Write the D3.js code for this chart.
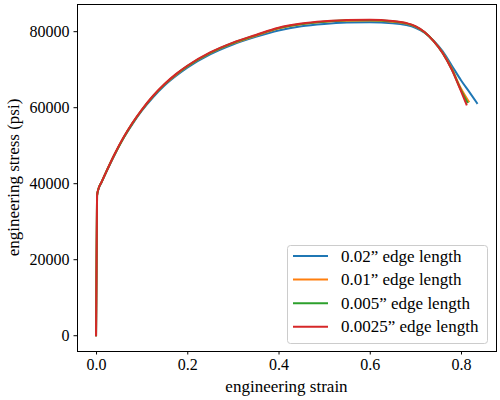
<!DOCTYPE html>
<html>
<head>
<meta charset="utf-8">
<script src="https://cdn.jsdelivr.net/npm/d3@7"></script>
<style>
  html, body { margin: 0; padding: 0; background: #fff; }
  svg { display: block; }
  text { font-family: "Liberation Serif", "DejaVu Serif", serif; fill: #000; }
</style>
</head>
<body>
<svg id="chart" width="500" height="400"></svg>
<script>
// ---- data ----
const seriesNames = ["0.02\u201D edge length", "0.01\u201D edge length", "0.005\u201D edge length", "0.0025\u201D edge length"];
const seriesColors = ["#1f77b4", "#ff7f0e", "#2ca02c", "#d62728"];

const strainBlue   = [0, 0.0022, 0.005, 0.012, 0.02, 0.04, 0.06, 0.08, 0.1, 0.125, 0.15, 0.175, 0.2, 0.25, 0.3, 0.35, 0.4, 0.45, 0.5, 0.55, 0.6, 0.65, 0.68, 0.7, 0.72, 0.74, 0.76, 0.78, 0.8, 0.82, 0.835];
const stressBlue   = [0, 36700, 38300, 40200, 42300, 47300, 51800, 55600, 59000, 62600, 65700, 68200, 70400, 73900, 76500, 78500, 80200, 81300, 81900, 82250, 82350, 82100, 81600, 80900, 79600, 77500, 74700, 70900, 67100, 63700, 61100];

const strainOrange = [0, 0.0022, 0.005, 0.012, 0.02, 0.04, 0.06, 0.08, 0.1, 0.125, 0.15, 0.175, 0.2, 0.25, 0.3, 0.35, 0.4, 0.45, 0.5, 0.55, 0.6, 0.65, 0.68, 0.7, 0.72, 0.74, 0.76, 0.78, 0.8, 0.817];
const stressOrange = [0, 36700, 38400, 40300, 42400, 47400, 51900, 55800, 59200, 62900, 66000, 68500, 70700, 74200, 76800, 78800, 80700, 81800, 82450, 82750, 82800, 82500, 82000, 81200, 79700, 77400, 74300, 70100, 64900, 61500];

const strainGreen  = [0, 0.0022, 0.005, 0.012, 0.02, 0.04, 0.06, 0.08, 0.1, 0.125, 0.15, 0.175, 0.2, 0.25, 0.3, 0.35, 0.4, 0.45, 0.5, 0.55, 0.6, 0.65, 0.68, 0.7, 0.72, 0.74, 0.76, 0.78, 0.8, 0.814];
const stressGreen  = [0, 36700, 38400, 40300, 42400, 47400, 51900, 55800, 59200, 62900, 66000, 68600, 70800, 74300, 76900, 78900, 80800, 81900, 82500, 82850, 82900, 82600, 82050, 81250, 79750, 77400, 74200, 69900, 64500, 61300];

const strainRed    = [0, 0.0022, 0.005, 0.012, 0.02, 0.04, 0.06, 0.08, 0.1, 0.125, 0.15, 0.175, 0.2, 0.25, 0.3, 0.35, 0.4, 0.45, 0.5, 0.55, 0.6, 0.65, 0.68, 0.7, 0.72, 0.74, 0.76, 0.78, 0.8, 0.812];
const stressRed    = [0, 36800, 38400, 40300, 42400, 47500, 52000, 55900, 59300, 63000, 66100, 68700, 70900, 74400, 77000, 79000, 80900, 82000, 82600, 82950, 83000, 82700, 82150, 81350, 79800, 77400, 74200, 69800, 64200, 60700];

const xTicks = [0.0, 0.2, 0.4, 0.6, 0.8];
const yTicks = [0, 20000, 40000, 60000, 80000];
const xLabel = "engineering strain";
const yLabel = "engineering stress (psi)";

// ---- build ----
const strains = [strainBlue, strainOrange, strainGreen, strainRed];
const stresses = [stressBlue, stressOrange, stressGreen, stressRed];
const series = seriesNames.map((name, i) => ({
  name, color: seriesColors[i],
  points: strains[i].map((s, j) => ({ x: s, y: stresses[i][j] }))
}));

const svg = d3.select("#chart");
const L = 77, R = 496, T = 4, B = 351;

const allX = strains.flat(), allY = stresses.flat();
const xMin = d3.min(allX), xMax = d3.max(allX), yMin = d3.min(allY), yMax = d3.max(allY);
const xPad = (xMax - xMin) * 0.05, yPad = (yMax - yMin) * 0.05;
const x = d3.scaleLinear().domain([xMin - xPad, xMax + xPad]).range([L, R]);
const y = d3.scaleLinear().domain([yMin - yPad, yMax + yPad]).range([B, T]);

const line = d3.line().x(d => x(d.x)).y(d => y(d.y)).curve(d3.curveMonotoneX);

const plot = svg.append("g");
plot.append("defs").append("clipPath").attr("id", "clip")
  .append("rect").attr("x", L).attr("y", T).attr("width", R - L).attr("height", B - T);

plot.append("g").attr("clip-path", "url(#clip)")
  .selectAll("path").data(series).join("path")
  .attr("d", d => line(d.points))
  .attr("fill", "none")
  .attr("stroke", d => d.color)
  .attr("stroke-width", 2)
  .attr("stroke-linejoin", "round")
  .attr("stroke-linecap", "square");

// axes
const xAxis = d3.axisBottom(x).tickValues(xTicks).tickFormat(d3.format(".1f")).tickSize(3.5).tickPadding(4);
const yAxis = d3.axisLeft(y).tickValues(yTicks).tickFormat(d3.format("d")).tickSize(3.5).tickPadding(4);

const gx = svg.append("g").attr("transform", `translate(0,${B})`).call(xAxis);
const gy = svg.append("g").attr("transform", `translate(${L},0)`).call(yAxis);
[gx, gy].forEach(g => {
  g.select(".domain").remove();
  g.selectAll(".tick line").attr("stroke", "#000").attr("stroke-width", 1);
  g.selectAll(".tick text").attr("font-size", 16).attr("font-family", "Liberation Serif").attr("fill", "#000");
});

// spines
svg.append("rect").attr("x", L).attr("y", T).attr("width", R - L).attr("height", B - T)
  .attr("fill", "none").attr("stroke", "#000").attr("stroke-width", 1).attr("shape-rendering", "crispEdges");

// labels
svg.append("text").attr("x", (L + R) / 2).attr("y", 392).attr("text-anchor", "middle")
  .attr("font-size", 17).text(xLabel);
svg.append("text").attr("transform", `translate(19,${(T + B) / 2}) rotate(-90)`).attr("text-anchor", "middle")
  .attr("font-size", 17).text(yLabel);

// legend
const lg = svg.append("g");
lg.append("rect").attr("x", 287.5).attr("y", 245.5).attr("width", 200).attr("height", 98).attr("rx", 3)
  .attr("fill", "#fff").attr("fill-opacity", 0.8).attr("stroke", "#cccccc").attr("stroke-width", 1);
const items = lg.selectAll("g.item").data(series).join("g").attr("class", "item")
  .attr("transform", (d, i) => `translate(0,${256 + i * 23.6})`);
items.append("line").attr("x1", 293).attr("x2", 328).attr("y1", 0).attr("y2", 0)
  .attr("stroke", d => d.color).attr("stroke-width", 2);
items.append("text").attr("x", 341).attr("y", 0).attr("dy", "0.33em").attr("font-size", 17).text(d => d.name);
</script>
</body>
</html>
